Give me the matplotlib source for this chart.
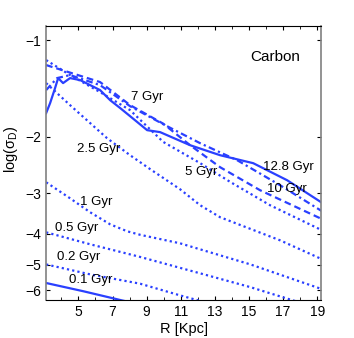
import numpy as np
import matplotlib
matplotlib.use("Agg")
import matplotlib.pyplot as plt

plt.rcParams['font.family'] = ['Liberation Sans', 'DejaVu Sans']

# radius [Kpc] and log(sigma_D) for each age
r_01 = [3.1, 5.3, 7.56, 10.0]
s_01 = [-5.70, -6.05, -6.46, -6.9]

r_02 = [3.106, 5.69, 8.62, 10.96, 12.04, 13.9]
s_02 = [-4.99, -5.36, -5.73, -6.23, -6.46, -7.04]

r_05 = [3.106, 5.69, 8.62, 12.14, 15.07, 17.59, 19.25]
s_05 = [-3.965, -4.32, -4.73, -5.32, -5.87, -6.46, -6.84]

r_1 = [3.106, 4.51, 5.69, 6.86, 7.86, 8.62, 10.96, 15.07, 19.25]
s_1 = [-2.77, -3.107, -3.435, -3.744, -3.936, -4.036, -4.29, -4.987, -5.95]

r_25 = [3.106, 4.51, 6.68, 8.03, 9.21, 10.96, 12.14, 13.31, 15.07, 16.83, 19.25]
s_25 = [-1.361, -1.594, -2.02, -2.282, -2.522, -2.912, -3.266, -3.559, -3.866, -4.2, -4.80]

r_5 = [3.106, 4.51, 6.27, 8.03, 9.97, 12.14, 13.9, 16.24, 19.25]
s_5 = [-1.154, -1.285, -1.452, -1.652, -2.074, -2.416, -2.763, -3.266, -3.90]

r_7 = [3.106, 6.27, 8.03, 9.97, 11.55, 13.31, 15.66, 19.25]
s_7 = [-1.196, -1.351, -1.594, -1.82, -2.124, -2.487, -2.934, -3.60]

r_10 = [3.106, 3.75, 4.51, 6.27, 8.03, 9.97, 12.14, 14.31, 16.83, 19.25]
s_10 = [-1.431, -1.313, -1.285, -1.381, -1.606, -1.827, -2.094, -2.365, -2.83, -3.40]

r_128 = [3.106, 3.34, 3.63, 3.81, 4.10, 4.51, 5.10, 5.69, 6.27, 6.86, 7.45,
         8.03, 9.03, 9.79, 11.55, 13.31, 15.25, 17.24, 19.25]
s_128 = [-1.688, -1.571, -1.411, -1.313, -1.361, -1.313, -1.332, -1.381, -1.431,
         -1.538, -1.628, -1.725, -1.907, -1.934, -2.124, -2.282, -2.416, -2.73, -3.20]

labels = ["0.1 Gyr", "0.2 Gyr", "0.5 Gyr", "1 Gyr", "2.5 Gyr", "5 Gyr", "7 Gyr", "10 Gyr", "12.8 Gyr"]
lab_x = [4.45, 3.75, 3.63, 5.10, 4.92, 11.26, 8.09, 16.07, 15.83]
lab_y = [-5.594, -4.743, -3.852, -3.197, -2.186, -2.578, -1.505, -2.912, -2.487]

col = '#2a40ff'
dot = (0, (1.0, 1.4))
dash = (0, (3.0, 1.8))
dashdot = (0, (3.0, 1.5, 1.0, 1.5))

fig = plt.figure(figsize=(3.54, 3.38), dpi=100)
ax = fig.add_axes([0.130, 0.1124, 0.777, 0.8107])


def fwd(y):
    return -np.log10(np.clip(-np.asarray(y, dtype=float), 1e-6, None))


def inv(u):
    return -10.0 ** (-np.asarray(u, dtype=float))


ax.set_yscale('function', functions=(fwd, inv))

lw = 1.6
ax.plot(r_01, s_01, color=col, lw=lw, ls='-')
ax.plot(r_02, s_02, color=col, lw=lw, ls=dot)
ax.plot(r_05, s_05, color=col, lw=lw, ls=dot)
ax.plot(r_1, s_1, color=col, lw=lw, ls=dot)
ax.plot(r_25, s_25, color=col, lw=lw, ls=dot)
ax.plot(r_5, s_5, color=col, lw=lw, ls=dot)
ax.plot(r_7, s_7, color=col, lw=lw, ls=dash)
ax.plot(r_10, s_10, color=col, lw=lw, ls=dashdot)
ax.plot(r_128, s_128, color=col, lw=lw, ls='-')

for t, x, y in zip(labels, lab_x, lab_y):
    ax.text(x, y, t, fontsize=9.5, ha='left', va='center')
ax.text(15.07, -1.13, "Carbon", fontsize=11, ha='left', va='center')

ax.set_xlim(3.1, 19.23)
ax.set_ylim(-6.44, -0.904)
ax.set_xticks([5, 7, 9, 11, 13, 15, 17, 19])
ax.set_xticks(np.arange(4, 20, 1), minor=True)
ax.set_yticks([-1, -2, -3, -4, -5, -6])
ax.set_yticklabels(['\u22121', '\u22122', '\u22123', '\u22124', '\u22125', '\u22126'])
ax.yaxis.set_minor_locator(matplotlib.ticker.NullLocator())
ax.tick_params(which='both', direction='in', top=True, right=True, labelsize=10)
ax.tick_params(which='major', length=3)
ax.tick_params(which='minor', length=2)
for s in ['left', 'right']:
    ax.spines[s].set_color('#808080')
    ax.spines[s].set_linewidth(1.2)

ax.set_xlabel("R [Kpc]", fontsize=10.5, labelpad=2)
ax.set_ylabel(r"log($\mathregular{\sigma_D}$)", fontsize=10.5, labelpad=2)
ax.yaxis.set_label_coords(-0.095, 0.55)

fig.savefig("out.png", dpi=100)
